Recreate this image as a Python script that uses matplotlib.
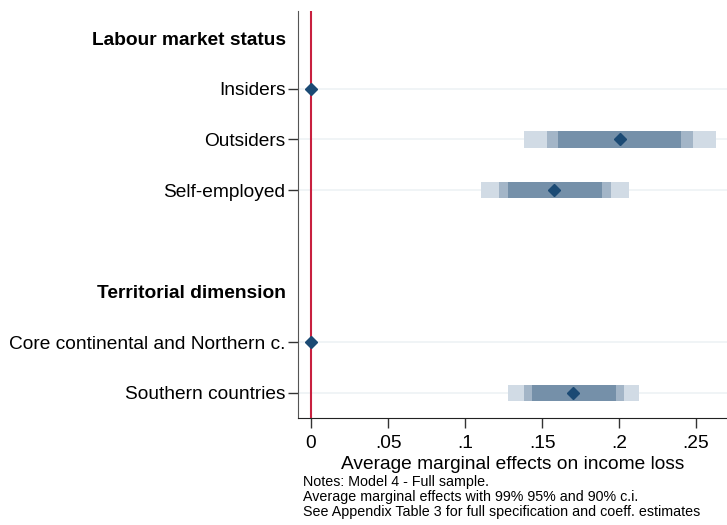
import matplotlib.pyplot as plt

plt.rcParams['font.family'] = ['Liberation Sans', 'DejaVu Sans']

rows = ['Labour market status', 'Insiders', 'Outsiders', 'Self-employed', '',
        'Territorial dimension', 'Core continental and Northern c.', 'Southern countries']
headers = ['Labour market status', 'Territorial dimension']

# estimates (None = header / blank row)
est = [None, 0.0, 0.2006, 0.158, None, None, 0.0, 0.170]
ci99 = [None, None, (0.138, 0.263), (0.1104, 0.2065), None, None, None, (0.1277, 0.213)]
ci95 = [None, None, (0.153, 0.248), (0.122, 0.195), None, None, None, (0.138, 0.203)]
ci90 = [None, None, (0.1606, 0.2405), (0.1277, 0.189), None, None, None, (0.1433, 0.198)]

xticks = [0, 0.05, 0.1, 0.15, 0.2, 0.25]
xticklabels = ['0', '.05', '.1', '.15', '.2', '.25']

fig = plt.figure(figsize=(7.27, 5.25), dpi=100)
ax = fig.add_axes([298 / 727, 1 - 418 / 525, 1 - 298 / 727, (418 - 11) / 525])

ypos = list(range(len(rows)))
for y, e in zip(ypos, est):
    if e is not None:
        ax.axhline(y, color='#edf2f5', lw=1.2, zorder=0)

ax.axvline(0, color='#c8203f', lw=1.5, zorder=1)

h = 0.32
for y, c, col in [(y, c, '#d1dbe5') for y, c in zip(ypos, ci99)] + \
                 [(y, c, '#a3b5c7') for y, c in zip(ypos, ci95)] + \
                 [(y, c, '#7590a9') for y, c in zip(ypos, ci90)]:
    if c is not None:
        ax.barh(y, c[1] - c[0], left=c[0], height=h, color=col, lw=0, zorder=2)

for y, e in zip(ypos, est):
    if e is not None:
        ax.plot(e, y, marker='D', ms=6, color='#1b4a74', zorder=3, ls='none')

ax.set_xlim(-0.00844, 0.2701)
ax.set_ylim(7.495, -0.533)
ax.set_yticks(ypos)
ax.set_yticklabels(rows, fontsize=13.8)
for i, (lab, tick) in enumerate(zip(ax.get_yticklabels(), ax.yaxis.get_major_ticks())):
    if rows[i] in headers:
        lab.set_fontweight('bold')
        tick.tick1line.set_visible(False)
    if rows[i] == '':
        tick.tick1line.set_visible(False)

ax.set_xticks(xticks)
ax.set_xticklabels(xticklabels, fontsize=13.8)
ax.tick_params(axis='y', length=7, width=1, color='#333333', pad=2)
ax.tick_params(axis='x', length=7, width=1, color='#333333', pad=5)
ax.set_xlabel('Average marginal effects on income loss', fontsize=13.8, labelpad=3)

for s in ['top', 'right']:
    ax.spines[s].set_visible(False)
ax.spines['left'].set_color('#555555')
ax.spines['bottom'].set_color('#222222')

notes = ['Notes: Model 4 - Full sample.',
         'Average marginal effects with 99% 95% and 90% c.i.',
         'See Appendix Table 3 for full specification and coeff. estimates']
for i, n in enumerate(notes):
    fig.text(303 / 727, 1 - (482 + 15 * i) / 525, n, fontsize=10.3, va='center', ha='left')

fig.savefig('out.png', dpi=100)
